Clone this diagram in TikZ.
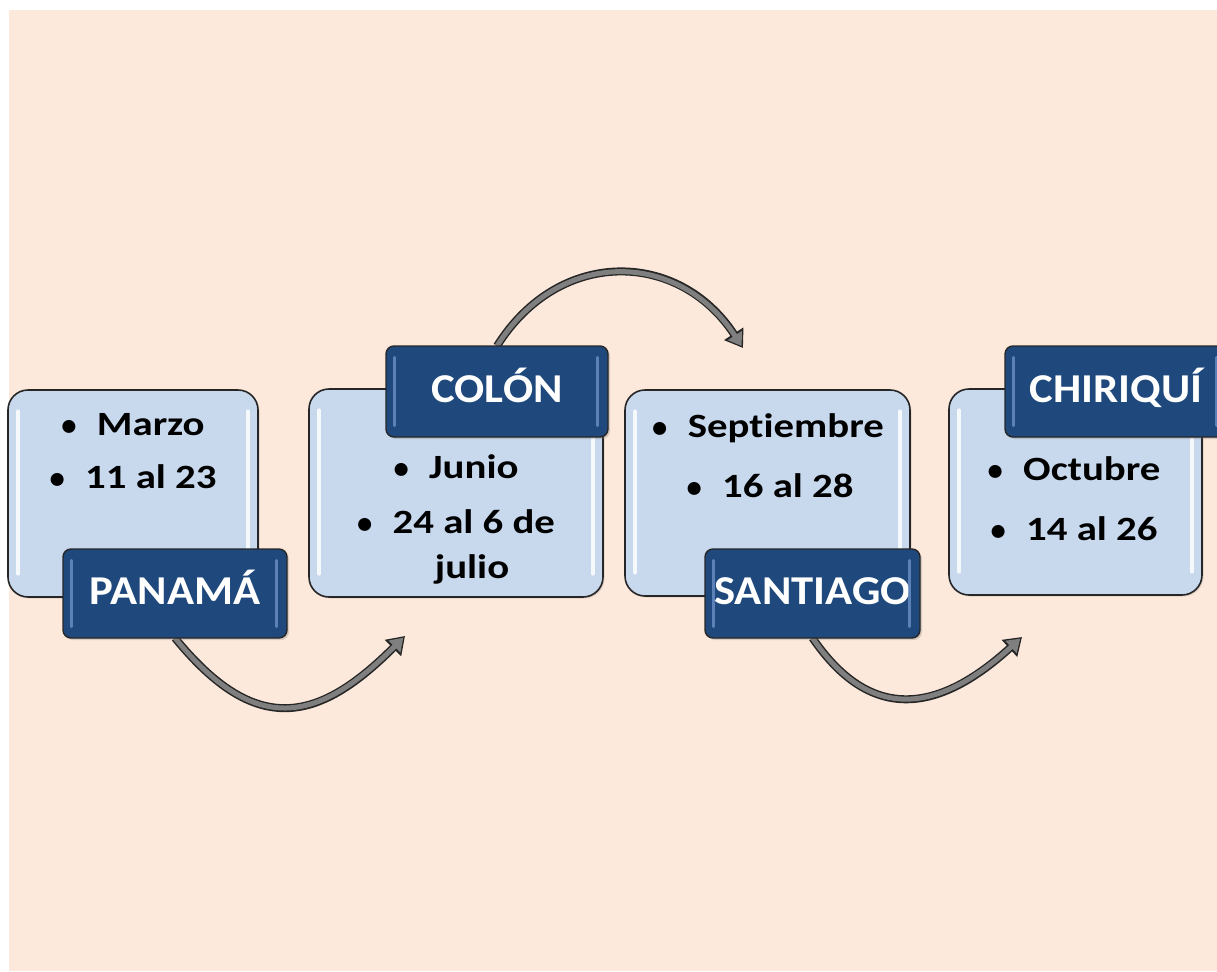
\documentclass[tikz,border=0pt]{standalone}
\usepackage{fontspec}
\setmainfont[Ligatures=NoCommon]{Carlito}
\usetikzlibrary{arrows.meta,shadows}
\definecolor{peach}{HTML}{FDE9DB}
\definecolor{cfill}{HTML}{C8D9EE}
\definecolor{lfill}{HTML}{1F497D}
\definecolor{lhigh}{HTML}{6A90C6}
\definecolor{agray}{HTML}{7F7F7F}
\newcommand{\sx}{1.2}
\newcommand{\lsx}{1.09}
\newcommand{\bl}{\scalebox{0.9}{\textbullet}\hspace{0.6em}}
\newcommand{\bt}[1]{\bl\scalebox{\sx}[1]{#1}}
\begin{document}
\begin{tikzpicture}[x=1pt,y=-1pt,
 cbox/.style={draw=black!85,line width=1.6pt,fill=cfill,rounded corners=20pt,inner sep=0pt,
   drop shadow={shadow xshift=1.5pt,shadow yshift=-1.5pt,opacity=0.25}},
 lbox/.style={draw=black!85,line width=1.4pt,fill=lfill,rounded corners=8pt,inner sep=0pt,
   text=white,font=\bfseries\fontsize{41}{48}\selectfont,text height=32pt,text depth=11pt,
   drop shadow={shadow xshift=2pt,shadow yshift=-2pt,opacity=0.3}},
 txt/.style={font=\bfseries\fontsize{34}{40}\selectfont,text=black,inner sep=0pt,anchor=base},
 hl/.style={white,line width=3.5pt,line cap=round,opacity=0.85},
 lhl/.style={lhigh,line width=3pt,line cap=round,opacity=0.8},
 arrout/.style={black!85,line width=8pt,-{Triangle[width=22pt,length=17pt]}},
 arrin/.style={agray,line width=5pt,shorten >=2.4pt,-{Triangle[width=16pt,length=12.5pt]}}]
\useasboundingbox (0,0) rectangle (1217,971);
\fill[white] (0,0) rectangle (1217,971);
\fill[peach] (9,10) rectangle (1217,971);

% content boxes
\node[cbox,minimum width=250pt,minimum height=207pt] (b1) at (133,493.5) {};
\node[cbox,minimum width=294pt,minimum height=208pt] (b2) at (456,493) {};
\node[cbox,minimum width=285pt,minimum height=206pt] (b3) at (767.5,493) {};
\node[cbox,minimum width=253pt,minimum height=206pt] (b4) at (1075.5,492) {};
\foreach \b in {b1,b2,b3,b4}{
  \draw[hl] ([xshift=11pt,yshift=-22pt]\b.north west) -- ([xshift=11pt,yshift=24pt]\b.south west);
  \draw[hl] ([xshift=-11pt,yshift=-22pt]\b.north east) -- ([xshift=-11pt,yshift=24pt]\b.south east);
}

% texts
\node[txt] (t1a) at (133,435) {\bt{Marzo}};
\node[txt] (t1b) at (133,488) {\bt{11 al 23}};
\node[txt] (t2a) at (456,478) {\bt{Junio}};
\node[txt] (t2b) at (456,533) {\bt{24 al 6 de}};
\node[txt] (t2c) at (472,578) {\scalebox{\sx}[1]{julio}};
\node[txt] (t3a) at (768,437) {\bt{Septiembre}};
\node[txt] (t3b) at (770,497) {\bt{16 al 28}};
\node[txt] (t4a) at (1074,480) {\bt{Octubre}};
\node[txt] (t4b) at (1074,540) {\bt{14 al 26}};

% arrow end points
\coordinate (e1) at (405,636);
\coordinate (e2) at (743,348);
\coordinate (e3) at (1022,637);
\coordinate (s1) at (175,638);
\coordinate (s2) at (497,346);
\coordinate (s3) at (812.5,638);

\draw[arrout] (s1) .. controls (255,736) and (317,724) .. (e1);
\draw[arrin]  (s1) .. controls (255,736) and (317,724) .. (e1);
\draw[arrout] (s2) .. controls (559,247) and (679,250) .. (e2);
\draw[arrin]  (s2) .. controls (559,247) and (679,250) .. (e2);
\draw[arrout] (s3) .. controls (874,728) and (944,708) .. (e3);
\draw[arrin]  (s3) .. controls (874,728) and (944,708) .. (e3);

% labels
\node[lbox,minimum width=224pt,minimum height=89pt] (l1) at (175,593.5) {\scalebox{\lsx}[1]{PANAMÁ}};
\node[lbox,minimum width=222pt,minimum height=91pt] (l2) at (497,391.5) {\scalebox{\lsx}[1]{COLÓN}};
\node[lbox,minimum width=215pt,minimum height=89pt] (l3) at (812.5,593.5) {\scalebox{\lsx}[1]{SANTIAGO}};
\node[lbox,minimum width=222pt,minimum height=91pt] (l4) at (1116,391.5) {\scalebox{\lsx}[1]{CHIRIQUÍ}};
\foreach \l in {l1,l2,l3,l4}{
  \draw[lhl] ([xshift=9pt,yshift=-12pt]\l.north west) -- ([xshift=9pt,yshift=12pt]\l.south west);
  \draw[lhl] ([xshift=-11pt,yshift=-12pt]\l.north east) -- ([xshift=-11pt,yshift=12pt]\l.south east);
}
\end{tikzpicture}
\end{document}
